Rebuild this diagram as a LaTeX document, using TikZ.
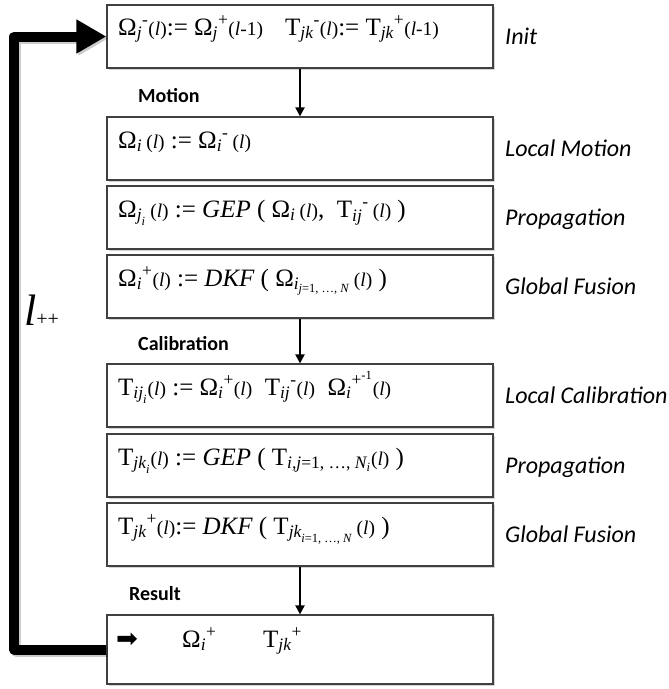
\documentclass[tikz,border=0pt]{standalone}
\usepackage{amsmath}
\usepackage{fontspec}
\setmainfont{Liberation Serif}
\newfontfamily\labfont{Carlito}
\newfontfamily\symfont{DejaVu Sans}
\usetikzlibrary{arrows.meta,shadows}

\newcommand{\sx}[1]{\text{\itshape #1}}
\newcommand{\Lp}[1]{\mbox{\fontsize{19.5}{20}\selectfont(#1)}}
\newcommand{\ut}[1]{\text{#1}}

\begin{document}
\begin{tikzpicture}[x=1pt,y=-1pt,
  stepbox/.style={draw=black!75, line width=1.2pt, fill=white, minimum width=386pt, inner sep=0pt,
    drop shadow={shadow xshift=2pt, shadow yshift=-2pt, opacity=0.35}},
  formula/.style={anchor=base west, inner sep=0pt, font=\fontsize{25}{29}\selectfont},
  phase/.style={anchor=base west, inner sep=0pt, font=\labfont\bfseries\fontsize{20}{23}\selectfont},
  stage/.style={anchor=base west, inner sep=0pt, font=\labfont\itshape\fontsize{24}{27}\selectfont},
  flow/.style={line width=2pt, -{Triangle[length=9pt,width=9pt]}},
  loop/.style={line width=10pt, line join=round, -{Triangle[length=30pt,width=32pt]}},
]
\useasboundingbox (0,0) rectangle (669,689);

% boxes
\node[stepbox, minimum height=63pt] (b1) at (300,36.5) {};
\node[stepbox, minimum height=63pt] (b2) at (300,148.5) {};
\node[stepbox, minimum height=63pt] (b3) at (300,217.5) {};
\node[stepbox, minimum height=63pt] (b4) at (300,286.5) {};
\node[stepbox, minimum height=63pt] (b5) at (300,395.5) {};
\node[stepbox, minimum height=63pt] (b6) at (300,465.5) {};
\node[stepbox, minimum height=63pt] (b7) at (300,534.5) {};
\node[stepbox, minimum height=69pt] (b8) at (300,649.5) {};

% formulas
\node[formula] (f1) at (118,35) {$\ut{Ω}_{\sx{j}}{}^{\ut{-}}\Lp{\textit{l}}\ut{:= Ω}_{\sx{j}}{}^{\ut{+}}\Lp{\textit{l}-1}\hspace{22pt}\ut{T}_{\sx{jk}}{}^{\ut{-}}\Lp{\textit{l}}\ut{:= T}_{\sx{jk}}{}^{\ut{+}}\Lp{\textit{l}-1}$};
\node[formula] (f2) at (118,148) {$\ut{Ω}_{\sx{i}}\,\Lp{\textit{l}}\ut{ := }\ut{Ω}_{\sx{i}}{}^{\ut{-}}\,\Lp{\textit{l}}$};
\node[formula] (f3) at (118,217) {$\ut{Ω}_{\sx{j}_{\sx{i}}}\,\Lp{\textit{l}}\ut{ := }\ut{\itshape GEP}\ut{ ( }\ut{Ω}_{\sx{i}}\,\Lp{\textit{l}}\ut{,\ \ T}_{\sx{ij}}{}^{\ut{-}}\,\Lp{\textit{l}}\ut{ )}$};
\node[formula] (f4) at (118,286) {$\ut{Ω}_{\sx{i}}{}^{\ut{+}}\Lp{\textit{l}}\ut{ := }\ut{\itshape DKF}\ut{ ( }\ut{Ω}_{\sx{i}_{\sx{j}\ut{=1, \dots, }\sx{N}}}\,\Lp{\textit{l}}\ut{ )}$};
\node[formula] (f5) at (118,395) {$\ut{T}_{\sx{ij}_{\sx{i}}}\Lp{\textit{l}}\ut{ := }\ut{Ω}_{\sx{i}}{}^{\ut{+}}\Lp{\textit{l}}\ \ \ut{T}_{\sx{ij}}{}^{\ut{-}}\Lp{\textit{l}}\ \ \ut{Ω}_{\sx{i}}{}^{\ut{+}^{\ut{-1}}}\Lp{\textit{l}}$};
\node[formula] (f6) at (118,465) {$\ut{T}_{\sx{jk}_{\sx{i}}}\Lp{\textit{l}}\ut{ := }\ut{\itshape GEP}\ut{ ( }\ut{T}_{\sx{i,j}\ut{=1, \dots, }\sx{N}_{\sx{i}}}\Lp{\textit{l}}\ut{ )}$};
\node[formula] (f7) at (118,534) {$\ut{T}_{\sx{jk}}{}^{\ut{+}}\Lp{\textit{l}}\ut{:= }\ut{\itshape DKF}\ut{ ( }\ut{T}_{\sx{jk}_{\sx{i}\ut{=1, \dots, }\sx{N}}}\,\Lp{\textit{l}}\ut{ )}$};
\node[formula, font=\symfont\fontsize{26}{28}\selectfont] (r0) at (116,647) {➡};
\node[formula] (r1) at (182,647) {$\ut{Ω}_{\sx{i}}{}^{\ut{+}}$};
\node[formula] (r2) at (263,647) {$\ut{T}_{\sx{jk}}{}^{\ut{+}}$};

% phase labels
\node[phase] (pm) at (138,102) {Motion};
\node[phase] (pc) at (138,350) {Calibration};
\node[phase] (pr) at (129,600) {Result};

% stage labels
\node[stage] (s1) at (505,44) {Init};
\node[stage] (s2) at (505,156) {Local Motion};
\node[stage] (s3) at (505,225) {Propagation};
\node[stage] (s4) at (505,294) {Global Fusion};
\node[stage] (s5) at (505,403) {Local Calibration};
\node[stage] (s6) at (505,473) {Propagation};
\node[stage] (s7) at (505,542) {Global Fusion};

% flow arrows
\draw[flow] (b1.south) -- (b2.north);
\draw[flow] (b4.south) -- (b5.north);
\draw[flow] (b7.south) -- (b8.north);

% loop
\draw[loop, black, opacity=0.2, transform canvas={shift={(2pt,-2pt)}}] (b8.west) -- ++(-92,0) |- (b1.west);
\draw[loop] (b8.west) -- ++(-92,0) |- (b1.west);
\node[anchor=base west, inner sep=0pt] (inc) at (24,325) {{\fontsize{44}{44}\selectfont\itshape l}{\fontsize{20}{20}\selectfont ++}};
\end{tikzpicture}
\end{document}
